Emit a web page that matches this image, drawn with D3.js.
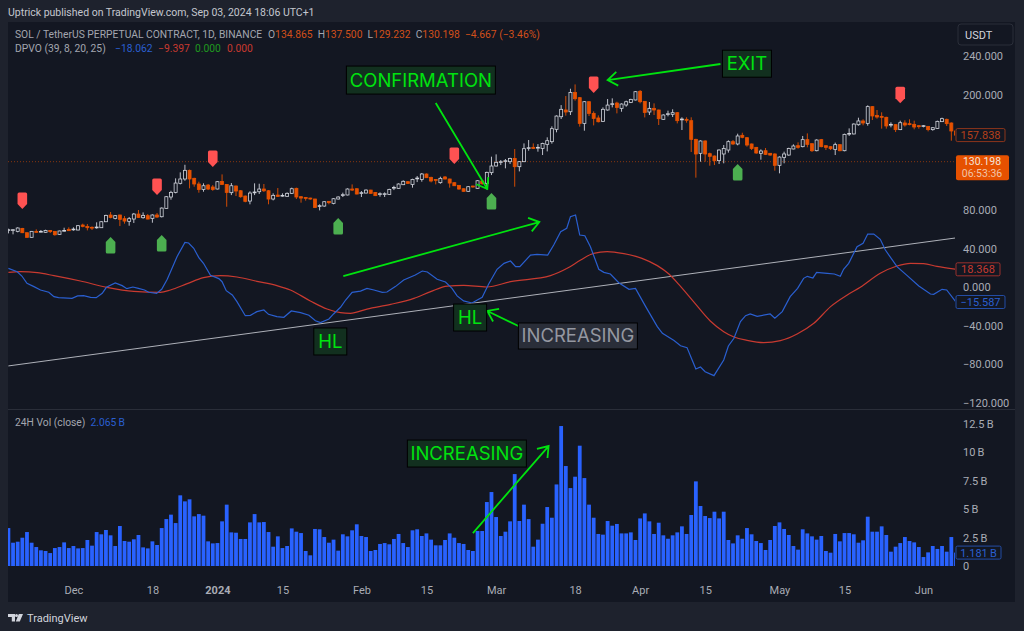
<!DOCTYPE html>
<html>
<head>
<meta charset="utf-8">
<script src="https://cdn.jsdelivr.net/npm/d3@7"></script>
<style>
html, body { margin: 0; padding: 0; background: #1e222d; }
svg { display: block; }
text { font-family: Roboto, "Noto Sans", sans-serif; }
</style>
</head>
<body>
<div id="chart"></div>
<script>
//daily candles, one per bar, 17 Nov to 8 Jun
var opens = [58.8,58.8,57.8,60.9,56.4,51.6,57.8,57.1,56.8,58.8,
57.8,54.7,58.2,59.9,59.5,59.2,64.4,63,62,61.6,
61.6,67.8,74.8,71.3,74.8,71,68.2,70.6,75.8,72,
74.1,71.3,74.8,73,81.7,93.5,98.3,107.7,112.2,121.2,
112.9,107,101.4,105.9,103.9,101.8,109.7,106.6,98,104.9,
100,94.5,89.3,98,99,101.8,100,91.4,95.5,94.5,
94.2,97.3,102.5,93.8,93.1,92.4,91.4,83.8,84.1,89,
86.9,91.4,95.2,95.6,101.8,102.1,97.3,97.6,100.7,98.3,
96.2,96.2,96.2,102.8,102.5,106.3,109.4,106.6,112.5,111.8,
117.4,113.9,111.8,108.4,114.3,112.2,108.4,105.6,102.1,99.4,
104.9,102.5,110.1,107.7,118.8,125.7,129.5,130.5,130.2,133.6,
125,130.2,144,145.1,144.4,144,148.2,151,163.8,176.9,
183.9,182.1,202.2,196.7,170,192.5,180.4,175.6,172.1,183.9,
189.8,191.1,185.6,189.1,191.8,194.3,203.3,192.9,181.8,185.6,
183.9,174.2,179.4,179.4,181.1,173.8,174.2,172.8,153.4,138.9,
151.7,138.5,136.1,131.3,138.2,142.3,151,148.6,157.6,155.1,
148.6,145.1,138.9,141.6,138.9,138.2,126.4,134.7,137.1,143.4,
146.8,145.8,153.1,148.9,141.6,153.1,146.8,145.8,143,147.9,
141.6,159,159,168.6,172.5,170,187.4,178.3,177.3,176.3,
168.3,168.7,163.5,170.4,169.7,169,167.6,166.9,166.9,163.5,
164.8,171.8,174.2,170.4,162.1];
var closes = [59.5,59.5,61.3,56.4,51.6,57.8,56.8,57.8,58.8,57.5,
54.3,58.2,58.8,58.5,60.2,63.7,63,61.6,61.3,62.3,
67.8,74.4,72.3,74.1,70.3,68.5,71,75.8,72.3,74.4,
70.6,74.8,72.7,82,93.8,98.3,108,112.2,121.2,112.2,
107,101.4,105.2,101.8,101.4,109.4,106.6,98.3,105.2,99.7,
93.8,89,97.6,98.7,101.8,100,91.4,95.2,94.2,95.2,
97.3,102.1,93.5,92.4,92.1,91.4,82.7,84.5,88.6,87.6,
91.7,93.5,95.9,101.8,100.7,96.6,98,100.7,97.3,94.9,
96.9,96.9,101.4,103.5,107,109.8,107.7,111.8,113.2,117.4,
113.6,110.1,110.8,112.9,112.2,108,105.2,101.8,99.4,104.2,
103.9,110.4,107.3,119.1,125.7,129.5,130.2,131.2,133.6,125,
130.2,143.7,144.7,144,145.1,149.2,152,164.5,177.6,184.6,
181.8,202.2,195.6,170,192.5,180.4,175.2,171.7,184.6,189,
190.4,186.6,190.1,192.5,194.9,202.9,192.5,181.4,185.6,183.9,
174.9,178.7,180,181.1,172.8,174.5,173.2,153.4,138.2,151.7,
138.2,135.8,131.3,142.3,144,151,148.6,156.9,155.5,147.5,
144,139.2,141.3,137.8,137.1,126.4,135,138.2,144,146.5,
145.1,153.1,148.2,141.6,152.7,145.8,145.1,143.7,147.9,141.6,
158.6,159.6,169.3,172.5,170.4,187.4,177.7,176.6,176.3,167.3,
169,163.5,170.7,168.3,168.7,166.2,166.6,167.6,163.5,165.5,
172.1,174.9,169.7,162.1,157.8];
var highs = [60.6,60.2,62,61.4,56.6,58.2,59.9,59.2,59.5,59.2,
58.2,58.5,61.6,62,62,64.4,65.8,65.4,63,67.2,
68.5,75.1,77.9,74.8,75.1,73.7,72.7,76.9,80,77.5,
75.8,75.5,76.9,82.7,94.5,100,112.9,119.1,127,122,
113.5,109.4,107.7,107,105.9,110,117,107,108,105.5,
100.7,95,99.4,107.7,107.3,107,100.7,97.3,102.8,97.3,
98.3,103.2,103.2,94.5,93.5,92.8,91.7,85.9,89,89.3,
92.4,94.2,98,102.5,106.6,102.5,99.7,101.4,101,98.7,
98.3,98.3,102.1,105.2,107.7,110.8,110,112.5,115.3,118.4,
118,114.6,112.2,114.6,115.3,112.5,108.7,105.9,102.5,104.9,
105.2,111.1,110.8,119.8,135.4,137.8,131.9,133,134.3,143.3,
130.9,149.2,152.7,149.2,148.5,149.9,155.5,166.9,178.3,189,
198.4,206,210.5,197.4,193.2,193.2,182.5,178.3,186.6,195.3,
196,192.5,190.8,193.6,195.6,203.6,204.6,193.2,192.2,190.8,
184.3,179.4,183.2,184.6,181.8,176.3,176.3,176.3,154,152.4,
152.4,139.6,136.6,143,147.5,152.4,152.7,159.3,160.3,155.8,
149,145.5,143,144.4,139.2,138.9,135.7,140.6,144.7,148.2,
150.3,156.9,159.6,149.3,153.4,153.8,147.2,146.2,150,148.2,
159.3,164.8,170,175.9,174.2,188.7,188,183.9,181.5,176.9,
171.1,169,172.8,173.2,174.2,172.8,168,168.3,167.3,166,
172.8,175.9,174.9,171,163.1];
var lows = [55.7,54.7,56.8,56,51.2,51.2,56.4,56.8,56.4,56.1,
53.3,54.3,57.5,58.2,58.5,58.9,62,58.8,59.2,60.6,
61.3,67.5,71.3,70.3,63.3,65.8,63.7,66.5,71.7,71,
70.3,66.8,71.7,72.3,81.3,90.7,97.3,106.6,110.4,102.5,
104.2,98,99,100.7,100,101.4,105.9,83.4,95.5,94.5,
92.8,88,85.9,95.5,96.6,98.7,85.9,90,93.5,93.8,
93.8,96.6,91.4,87.6,89.7,90.7,82,79.6,83.4,85.9,
85.9,91,93.5,95.2,99.7,96.2,93.5,97.3,96.9,94.5,
93.8,93.5,95.9,100.7,102.1,105.9,107,103.2,109,109.4,
113.2,108.7,106.6,107.3,111.8,103.2,104.9,101,99,99,
103.2,102.1,106.3,101.4,116.3,125.3,126.7,123.3,127.8,104.2,
120.1,129.8,141.6,143.3,140.6,137.1,140.9,148.9,160.7,174.5,
178,178.7,193.6,166.6,162.4,177.6,167.9,171,171.4,183.2,
186.6,180.4,182.1,187.3,191.1,193.9,190.8,176.2,178.7,178.7,
168.3,173.5,177.3,176.6,170,163.1,170.7,140.3,113.6,130.2,
130.2,126,126.7,127.8,128.5,139.6,147.5,147.2,154.5,145.8,
142.3,138.5,132.3,137.1,136.4,120.9,118.1,128.5,136.4,143,
143.7,145.1,145.1,140.3,141,145.1,142.3,142.3,137.1,141,
141,156.9,158.6,167.6,168,167.6,173.5,174.9,164.5,164.5,
165.9,161,163,166.6,168,163.8,164.5,165.9,161.7,162.4,
164.2,171.4,167.3,152,150];

//24h volume in billions
var volumes = [3.34,2.05,2.14,2.49,2.99,2.05,1.67,1.38,1.32,1.14,
1.58,1.67,2.08,1.58,1.76,1.55,1.58,2.29,1.79,2.99,
2.79,3.17,2.70,1.76,3.52,2.20,2.14,2.35,2.73,1.64,
1.55,2.17,1.85,3.34,4.13,4.52,3.78,6.22,5.69,5.87,
4.37,4.57,4.43,2.17,1.99,2.02,3.93,5.40,2.96,2.93,
2.38,2.38,3.84,4.57,3.84,3.87,2.99,1.70,2.61,1.58,
1.76,3.31,3.02,2.90,1.32,0.94,3.26,3.23,2.55,2.05,
2.32,1.35,2.79,2.61,3.14,3.67,2.64,2.55,1.32,1.41,
1.94,2.02,1.91,2.38,2.82,2.02,1.67,3.14,3.23,2.64,
2.87,2.32,1.82,1.82,2.29,2.87,2.49,2.02,1.94,1.41,
1.32,3.08,3.08,5.63,6.51,4.31,2.64,3.02,3.93,8.09,
3.96,5.40,4.13,1.70,2.32,3.72,5.19,4.25,7.18,12.32,
8.80,6.86,7.86,10.59,7.74,5.40,4.25,2.82,2.76,3.96,
3.55,3.70,2.87,2.87,2.96,2.29,4.19,4.63,3.93,2.82,
3.81,2.70,2.40,2.70,2.96,3.49,2.82,4.49,7.45,5.28,
4.40,4.22,4.78,4.19,4.78,2.29,1.99,2.70,2.40,3.34,
2.79,2.20,2.02,1.41,2.29,3.52,3.84,3.26,2.73,1.76,
1.44,3.23,2.87,2.61,2.32,2.64,1.32,1.17,2.82,2.17,
2.90,2.90,2.79,2.05,2.26,4.34,3.02,3.02,3.49,2.73,
1.26,1.70,2.02,2.55,2.20,2.08,1.67,0.79,1.20,1.76,
1.50,1.76,1.26,2.55,1.18];

//DPVO line, read at its bends (bar number, value)
var blueBars = [0,1.9,2.9,4,5.5,6.9,8.7,9.8,10.8,13.7,14.9,16.2,17.7,18.9,20.2,21.1,23,24.5,25.5,26.8,28,29.3,30.2,31.9,33,34.2,36.3,38,38.8,39.9,41,42,43.5,45.3,46,46.9,48.2,49.2,51,52.1,53.5,55,56,57.8,59.3,60.9,62.9,64.7,66.1,67.2,69,70,71.5,72.6,74,75.8,77.2,78.7,80.5,81.5,83.3,85.1,87.6,89.1,90.2,92.3,94.1,95.5,96.6,98,99.8,102,103.4,105.2,106.7,108.1,109.2,110.1,112.4,113.8,116.1,117.4,118.9,120.2,121,122.1,123,124.1,125.3,127.1,128.2,129.6,131.4,133.6,135,137.2,139.7,140.8,143.3,144.7,146.1,147.2,148,149,150,151.9,154,155,156.2,157.6,158.7,159.7,161.2,164,165,166.6,168.3,169.9,171.2,172,173.2,174,176.3,177.8,179.1,179.8,180.9,182.7,184,185,186.3,187.7,188.8,191.3,193.5,196,198.5,199.2,201,202,204];
var blueVals = [19.4,15.9,11.4,3.8,0.4,-3.1,-5.5,-10,-11.1,-11.8,-9.3,-9,-10.7,-11.1,-6.6,-0.3,4.2,1.4,-1.7,0,-1.4,-3.1,-5.5,-6.6,-2.4,8,31.5,46.4,45.7,40.2,30.5,24.6,12.1,8.7,5.5,-3.8,-8.3,-15.2,-29.8,-29.4,-25.6,-23.9,-28.4,-30.8,-31.5,-24.9,-26.7,-29.4,-35,-37,-33.2,-28,-21.1,-13.5,-5.5,-4.2,-1.4,-3.1,-5.5,-5.2,0.4,7.3,12.5,16.6,15.6,8,5.2,-1.4,-9.3,-14.5,-16.6,-10.7,3.1,18.4,24.6,27,21.1,21.1,33.2,33.9,33.2,43.6,57.5,61,73.1,74.8,54,53.3,41.9,18.4,15.2,13.5,4.5,-2.4,-1.4,-20.4,-41.2,-48.1,-55.7,-61,-63,-75.8,-85.2,-83.1,-88,-92.1,-75.8,-61.3,-53.3,-36,-29.8,-28,-30.5,-28,-32.5,-25.6,-10,-1.4,9,11.1,9.4,15.2,14.2,13.5,11.1,18.4,24.6,41.9,45.4,55,55,49.5,38.4,21.1,11.8,1,-7.3,-7.6,-2.4,-3.1,-15.6];

//signal line
var redBars = [0,2.6,6.2,9.8,15.5,21.2,27,32.7,34.9,38.5,42,45.6,49.2,53.5,57.8,60.7,65,68.6,71.5,73.6,77.2,82.3,87.3,90.9,94.5,98,103,108.1,116.7,120.3,123.2,126,128.9,132.5,136.4,139.7,142.2,144.7,147.5,151.1,154,156.2,159,162.6,166.2,169.8,173.4,177,180.6,183.4,187.7,191.3,194.2,197,199.9,204];
var redVals = [15.2,15.9,14.9,11.8,6.2,-0.3,-4.5,-5.5,-3.1,3.5,9.7,11.8,10.4,5.9,1.4,-3.1,-14.5,-22.9,-26.7,-27.4,-22.9,-18,-11.8,-4.8,1,1.7,0,5.5,11.8,19.4,28,35,36.7,34.6,29.8,22.2,13.5,0.7,-15.2,-35.3,-46.4,-51.9,-55.4,-57.8,-55.7,-48.8,-37.7,-20.4,-8.3,-0.3,14.2,21.8,24.6,24.2,21.5,18.4];

var trendBars = [0, 204];
var trendVals = [-82, 51];

//DPVO buy and sell signals: bar and price at the tip of the marker
var sellBars = [3, 32, 44, 96, 126, 192];
var sellPrices = [81, 95.6, 124.7, 127.8, 201.6, 191];
var buyBars = [22, 33, 71, 104, 157];
var buyPrices = [52, 54, 71.7, 97.7, 127.8];

var priceTicks = [240, 200, 80, 40, 0, -40, -80, -120];
var volTicks = [12.5, 10, 7.5, 5, 2.5, 0];
var volTickLabels = ["12.5\u2009B", "10\u2009B", "7.5\u2009B", "5\u2009B", "2.5\u2009B", "0"];
var timeBars = [14, 31, 45, 59, 76, 90, 105, 122, 136, 150, 166, 180, 197];
var timeLabels = ["Dec", "18", "2024", "15", "Feb", "15", "Mar", "18", "Apr", "15", "May", "15", "Jun"];

var lastPrice = 130.198;
var lastCandle = 157.838;
var lastRed = 18.368;
var lastBlue = -15.587;
var lastVol = 1.181;

var width = 1024, height = 631;
var left = 8, right = 955, panelRight = 1015, top_ = 22, bottom = 602;
var orange = "#e65100", green = "#00e30f", fg = "#a9acb5", bg = "#131722";

var svg = d3.select("#chart").append("svg")
    .attr("width", width)
    .attr("height", height);

svg.append("rect").attr("width", width).attr("height", height).attr("fill", "#1e222d");
svg.append("rect").attr("x", left).attr("y", top_).attr("width", panelRight - left).attr("height", bottom - top_).attr("fill", bg);

var x = d3.scaleLinear().domain([0, 204]).range([8.4, 8.4 + 204 * 4.645]);
var y = d3.scaleLinear().domain([-120, 240]).range([402.5, 56]);
var yVol = d3.scaleLinear().domain([0, 12.5]).range([566, 424]);

svg.append("clipPath").attr("id", "plot").append("rect")
    .attr("x", left).attr("y", top_).attr("width", right - left).attr("height", bottom - top_);

//pane divider
svg.append("line").attr("x1", left).attr("x2", panelRight).attr("y1", 409.5).attr("y2", 409.5)
    .attr("stroke", "#2a2e39").attr("stroke-width", 1);

var plot = svg.append("g").attr("clip-path", "url(#plot)");

//volume
plot.selectAll(".vol").data(volumes).enter().append("rect")
    .attr("class", "vol")
    .attr("x", function(d, i) { return x(i) - 1.9; })
    .attr("width", 3.8)
    .attr("y", function(d) { return yVol(d); })
    .attr("height", function(d) { return yVol(0) - yVol(d); })
    .attr("fill", "#2962ff");

//last price dotted line
plot.append("line").attr("x1", left).attr("x2", right)
    .attr("y1", y(lastPrice)).attr("y2", y(lastPrice))
    .attr("stroke", orange).attr("stroke-opacity", 0.55).attr("stroke-dasharray", "1 2");

//trend line
plot.append("line")
    .attr("x1", x(trendBars[0])).attr("x2", x(trendBars[1]))
    .attr("y1", y(trendVals[0])).attr("y2", y(trendVals[1]))
    .attr("stroke", "#aeb1b9").attr("stroke-width", 1);

//indicator lines
var redLine = d3.line()
    .x(function(d, i) { return x(redBars[i]); })
    .y(function(d) { return y(d); })
    .curve(d3.curveMonotoneX);
var blueLine = d3.line()
    .x(function(d, i) { return x(blueBars[i]); })
    .y(function(d) { return y(d); });

plot.append("path").attr("d", redLine(redVals)).attr("fill", "none").attr("stroke", "#c83a30").attr("stroke-width", 1.2);
plot.append("path").attr("d", blueLine(blueVals)).attr("fill", "none").attr("stroke", "#2a5fd0").attr("stroke-width", 1.2);

//candles
var candles = plot.selectAll(".candle").data(closes).enter().append("g").attr("class", "candle");
candles.append("line")
    .attr("x1", function(d, i) { return x(i); })
    .attr("x2", function(d, i) { return x(i); })
    .attr("y1", function(d, i) { return y(highs[i]); })
    .attr("y2", function(d, i) { return y(lows[i]); })
    .attr("stroke", function(d, i) { return d >= opens[i] ? "#d1d4dc" : orange; })
    .attr("stroke-width", 0.9);
candles.append("rect")
    .attr("x", function(d, i) { return x(i) - 1.5; })
    .attr("width", 3)
    .attr("y", function(d, i) { return y(Math.max(d, opens[i])); })
    .attr("height", function(d, i) { return Math.max(0.8, Math.abs(y(d) - y(opens[i]))); })
    .attr("fill", function(d, i) { return d >= opens[i] ? bg : orange; })
    .attr("stroke", function(d, i) { return d >= opens[i] ? "#d1d4dc" : orange; })
    .attr("stroke-width", 0.8);

//signal markers, tip on the price, body away from it
function marker(cx, tip, dir) {
    var w = 4.8, neck = 5, h = 16.5;
    return "M" + cx + "," + tip +
        "L" + (cx + w) + "," + (tip + dir * neck) +
        "L" + (cx + w) + "," + (tip + dir * (h - 1.5)) +
        "Q" + (cx + w) + "," + (tip + dir * h) + " " + (cx + w - 1.5) + "," + (tip + dir * h) +
        "L" + (cx - w + 1.5) + "," + (tip + dir * h) +
        "Q" + (cx - w) + "," + (tip + dir * h) + " " + (cx - w) + "," + (tip + dir * (h - 1.5)) +
        "L" + (cx - w) + "," + (tip + dir * neck) + "Z";
}
plot.selectAll(".sell").data(sellBars).enter().append("path")
    .attr("d", function(d, i) { return marker(x(d), y(sellPrices[i]), -1); })
    .attr("fill", "#ff5252");
plot.selectAll(".buy").data(buyBars).enter().append("path")
    .attr("d", function(d, i) { return marker(x(d), y(buyPrices[i]), 1); })
    .attr("fill", "#4caf50");

//hand drawn arrows and labels
function arrow(g, x1, y1, x2, y2, color) {
    var a = Math.atan2(y2 - y1, x2 - x1), s = 12, t = 0.62;
    g.append("path")
        .attr("d", "M" + x1 + "," + y1 + "L" + x2 + "," + y2 +
            "M" + (x2 - s * Math.cos(a - t)) + "," + (y2 - s * Math.sin(a - t)) +
            "L" + x2 + "," + y2 +
            "L" + (x2 - s * Math.cos(a + t)) + "," + (y2 - s * Math.sin(a + t)))
        .attr("fill", "none").attr("stroke", color).attr("stroke-width", 1.8);
}
function note(g, cx, cy, label, w, h, color, fill) {
    g.append("rect").attr("x", cx - w / 2).attr("y", cy - h / 2).attr("width", w).attr("height", h)
        .attr("fill", fill).attr("stroke", "#000").attr("stroke-width", 1);
    g.append("text").attr("x", cx).attr("y", cy + 6.5).attr("text-anchor", "middle")
        .style("font-family", "Inter, sans-serif")
        .attr("font-size", 18.5).attr("fill", color).text(label);
}
var notes = svg.append("g");
arrow(notes, x(92), y(191.2), x(103.1), y(101.8), green);
arrow(notes, x(153.3), y(231.7), x(129), y(215), green);
arrow(notes, x(72.1), y(11.4), x(114.3), y(67.5), green);
arrow(notes, x(109.8), y(-40.5), x(103.1), y(-24.9), green);
arrow(notes, x(100), yVol(2.9), x(116.3), yVol(10.56), green);
note(notes, x(88.8), y(215), "CONFIRMATION", 149, 28, green, "#12301f");
note(notes, x(159), y(232), "EXIT", 49, 27, green, "#12301f");
note(notes, x(99.4), y(-31.7), "HL", 33, 27, green, "#12301f");
note(notes, x(69.3), y(-56.6), "HL", 33, 27, green, "#12301f");
note(notes, x(122.6), y(-50.9), "INCREASING", 119, 26, "#9598a1", "#2a2e39");
note(notes, x(98.7), yVol(9.9), "INCREASING", 119, 27, green, "#12301f");

//axes
function styleAxis(g) {
    g.select(".domain").remove();
    g.selectAll("text").attr("fill", fg).attr("font-size", 11);
}
var priceAxis = d3.axisRight(y).tickValues(priceTicks).tickSize(0).tickPadding(0)
    .tickFormat(function(d) { return d3.format(".3f")(d).replace("-", "\u2212"); });
svg.append("g").attr("transform", "translate(963,0)").call(priceAxis).call(styleAxis);

var volAxis = d3.axisRight(yVol).tickValues(volTicks).tickSize(0).tickPadding(0)
    .tickFormat(function(d, i) { return volTickLabels[i]; });
svg.append("g").attr("transform", "translate(963,0)").call(volAxis).call(styleAxis);

var timeAxis = d3.axisBottom(x).tickValues(timeBars).tickSize(0).tickPadding(0)
    .tickFormat(function(d, i) { return timeLabels[i]; });
svg.append("g").attr("transform", "translate(0,586)").call(timeAxis).call(styleAxis)
    .selectAll("text").attr("font-weight", function(d, i) { return timeLabels[i] == "2024" ? 700 : 400; });

//value tags on the right
function tag(cy, label, color, x0, w) {
    svg.append("rect").attr("x", x0).attr("y", cy - 6.5).attr("width", w).attr("height", 13).attr("rx", 1.5)
        .attr("fill", bg).attr("stroke", color).attr("stroke-opacity", 0.75);
    svg.append("text").attr("x", x0 + w / 2).attr("y", cy + 4).attr("text-anchor", "middle")
        .attr("font-size", 11).attr("fill", color).text(label);
}
tag(y(lastCandle), lastCandle.toFixed(3), "#b5401a", 956, 49);
tag(y(lastRed), lastRed.toFixed(3), "#c83a30", 956, 44);
tag(y(lastBlue), lastBlue.toFixed(3).replace("-", "\u2212"), "#2a5fd0", 956, 49);
tag(yVol(lastVol), lastVol.toFixed(3) + "\u2009B", "#2a5fd0", 956, 45);

svg.append("rect").attr("x", 956).attr("y", y(lastPrice) - 6.5).attr("width", 53).attr("height", 25).attr("rx", 2).attr("fill", orange);
svg.append("text").attr("x", 982).attr("y", y(lastPrice) + 3.5).attr("text-anchor", "middle")
    .attr("font-size", 10.5).attr("fill", "#f3e4da").text(lastPrice.toFixed(3));
svg.append("text").attr("x", 982).attr("y", y(lastPrice) + 15.5).attr("text-anchor", "middle")
    .attr("font-size", 10.5).attr("fill", "#f0c4a8").text("06:53:36");

//currency button
svg.append("rect").attr("x", 958).attr("y", 24).attr("width", 55).attr("height", 21).attr("rx", 3)
    .attr("fill", "none").attr("stroke", "#2a2e39");
svg.append("text").attr("x", 965).attr("y", 39).attr("font-size", 11).attr("fill", "#d1d4dc").text("USDT");

//header
svg.append("text").attr("x", 8).attr("y", 16).attr("font-size", 10.5).attr("fill", "#c4c7cf")
    .text("Uptrick published on TradingView.com, Sep 03, 2024 18:06 UTC+1");

function legend(yPos, parts) {
    var t = svg.append("text").attr("x", 15).attr("y", yPos).attr("font-size", 10.3).attr("xml:space", "preserve");
    parts.forEach(function(p) {
        var s = t.append("tspan").attr("fill", p[1]).text(p[0]);
        if (p[2]) s.attr("x", p[2]);
    });
}
legend(38, [["SOL / TetherUS PERPETUAL CONTRACT, 1D, BINANCE", "#a3a6af"],
    ["O", "#a3a6af", 268], ["134.865", "#d2501a"], ["  H", "#a3a6af"], ["137.500", "#d2501a"],
    ["  L", "#a3a6af"], ["129.232", "#d2501a"], ["  C", "#a3a6af"], ["130.198", "#d2501a"],
    ["  \u22124.667 (\u22123.46%)", "#d2501a"]]);
legend(52, [["DPVO (39, 8, 20, 25)", "#a3a6af"], ["\u221218.062", "#2a5fd0", 115],
    ["\u22129.397", "#c83a30", 158], ["0.000", "#1f9a1f", 195], ["0.000", "#c83a30", 227]]);
svg.append("text").attr("x", 15).attr("y", 426).attr("font-size", 10.3).attr("xml:space", "preserve")
    .attr("fill", "#a3a6af").text("24H Vol (close)  ")
    .append("tspan").attr("fill", "#2a5fd0").text("2.065\u2009B");

//footer logo
svg.append("path")
    .attr("d", "M8,614h7v7.5h-3.2v-4.6H8z M15.8,621.5l3-7.5h4.2l-3.2,7.5z")
    .attr("fill", "#d1d4dc");
svg.append("circle").attr("cx", 16.5).attr("cy", 615.5).attr("r", 1.5).attr("fill", "#d1d4dc");
svg.append("text").attr("x", 27).attr("y", 622).attr("font-size", 11).attr("fill", "#d1d4dc").text("TradingView");
</script>
</body>
</html>
